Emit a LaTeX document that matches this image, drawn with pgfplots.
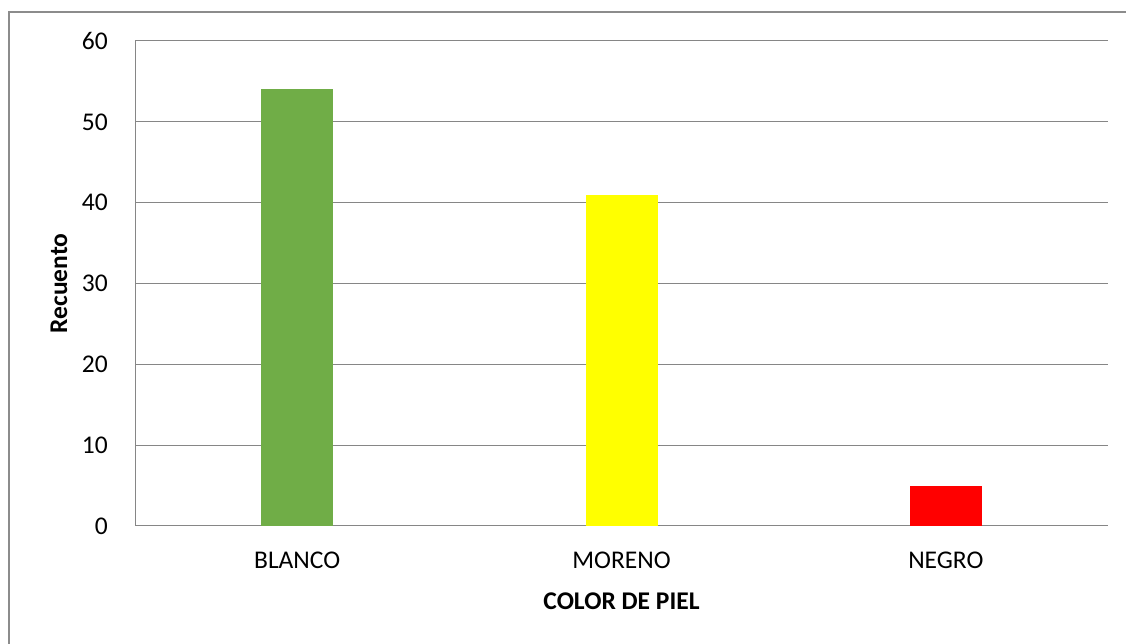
\documentclass[border=0pt]{standalone}
\usepackage{pgfplots}
\pgfplotsset{compat=1.18}
\usepackage{fontspec}
\setmainfont{Carlito}

\definecolor{barverde}{HTML}{70AD47}
\definecolor{baramarillo}{HTML}{FFFF00}
\definecolor{barrojo}{HTML}{FF0000}
\definecolor{ejegris}{HTML}{868686}
\definecolor{marco}{HTML}{8C8C8C}

\begin{document}
\begin{tikzpicture}
\useasboundingbox (0,0) rectangle (1126pt,644pt);
% borde del area del grafico (solo se ven izquierda y arriba)
\draw[marco, line width=1.2pt] (9pt,0pt) -- (9pt,632pt) -- (1126pt,632pt);
\begin{axis}[
    at={(135pt,118pt)}, anchor=south west,
    width=973pt, height=485pt, scale only axis,
    xmin=-0.5, xmax=2.5,
    ymin=0, ymax=60,
    xtick={0,1,2},
    xticklabels={BLANCO,MORENO,NEGRO},
    ytick={0,10,20,30,40,50,60},
    axis x line=bottom, axis y line=left,
    axis line style={-, ejegris, line width=1pt},
    major tick length=0pt,
    ymajorgrids=true,
    grid style={solid, ejegris, line width=1pt},
    /pgf/number format/assume math mode=true,
    tick label style={font=\fontsize{25.5}{30}\selectfont},
    xticklabel style={anchor=center, inner sep=0pt, yshift=-34pt},
    yticklabel style={anchor=east, inner sep=0pt, xshift=-27pt},
    every axis x label/.style={at={(axis description cs:0.5,0)}, yshift=-75pt,
        anchor=center, inner sep=0pt, font=\fontsize{25.5}{30}\selectfont\bfseries},
    every axis y label/.style={at={(axis description cs:0,0.5)}, xshift=-76pt,
        rotate=90, anchor=center, inner sep=0pt, font=\fontsize{25.5}{30}\selectfont\bfseries},
    xlabel={COLOR DE PIEL},
    ylabel={Recuento},
]
\addplot[ybar, bar width=72pt, bar shift=0pt, fill=barverde, draw=none]
    coordinates {(0,54)};
\addplot[ybar, bar width=72pt, bar shift=0pt, fill=baramarillo, draw=none]
    coordinates {(1,41)};
\addplot[ybar, bar width=72pt, bar shift=0pt, fill=barrojo, draw=none]
    coordinates {(2,5)};
\end{axis}
\end{tikzpicture}
\end{document}
